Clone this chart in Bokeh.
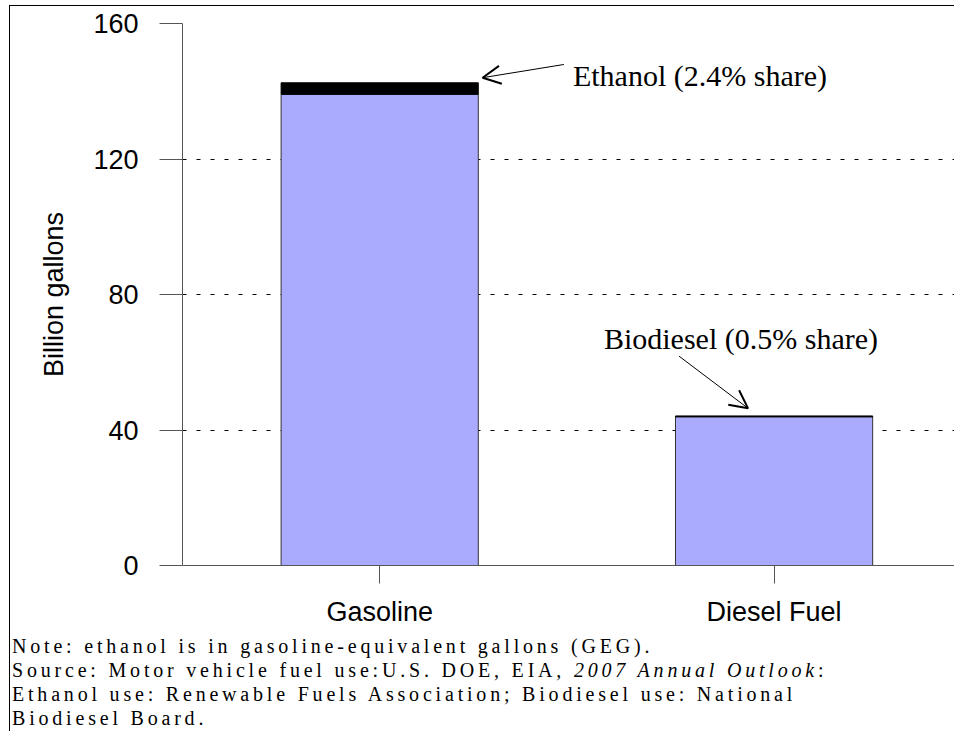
from bokeh.plotting import figure
from bokeh.layouts import column
from bokeh.models import Range1d, FixedTicker, Arrow, OpenHead, Label, Div
from bokeh.embed import file_html
from bokeh.resources import INLINE

# ---- data ----
categories = ["Gasoline", "Diesel Fuel"]
petroleum = [139.1, 43.9]      # billion gallons (petroleum part)
renewable = [3.4, 0.25]        # ethanol (GEG) / biodiesel
renewable_names = ["Ethanol (2.4% share)", "Biodiesel (0.5% share)"]
y_ticks = [0, 40, 80, 120, 160]
note_line = "Note: ethanol is in gasoline-equivalent gallons (GEG)."
source_plain = "Source: Motor vehicle fuel use:U.S. DOE, EIA, "
source_italic = "2007 Annual Outlook"
source_end = ":"
ethanol_src = "Ethanol use: Renewable Fuels Association; Biodiesel use: National"
biodiesel_src = "Biodiesel Board."

xs = list(range(len(categories)))
totals = [a + b for a, b in zip(petroleum, renewable)]

SANS = "Liberation Sans"
SERIF = "Liberation Serif"

p = figure(width=945, height=629,
           x_range=Range1d(-0.5, 1.46), y_range=Range1d(0, 160),
           output_backend="svg", toolbar_location=None,
           min_border_left=172, min_border_top=17,
           min_border_right=0, min_border_bottom=70)
p.outline_line_color = None
p.background_fill_color = "white"
p.border_fill_color = "white"
p.styles = {"border-top": "1px solid black", "border-left": "1px solid black",
            "box-sizing": "border-box"}

# grid
p.xgrid.grid_line_color = None
p.ygrid.ticker = FixedTicker(ticks=y_ticks)
p.ygrid.grid_line_color = "black"
p.ygrid.grid_line_dash = "4 10"
p.ygrid.grid_line_width = 1

# bars
p.vbar(x=xs, bottom=0, top=petroleum, width=0.5,
       fill_color="#aaaaff", line_color="#333333", line_width=1)
p.vbar(x=xs, bottom=petroleum, top=totals, width=0.5,
       fill_color="black", line_color="black", line_width=1)

# y axis
ya = p.yaxis[0]
ya.ticker = FixedTicker(ticks=y_ticks)
ya.axis_line_color = "#555555"
ya.major_tick_line_color = "#555555"
ya.major_tick_out = 23
ya.major_tick_in = 0
ya.minor_tick_line_color = None
ya.major_label_text_font = SANS
ya.major_label_text_font_size = "27px"
ya.major_label_text_color = "black"
ya.major_label_standoff = 21
ya.axis_label = "Billion gallons"
ya.axis_label_text_font = SANS
ya.axis_label_text_font_size = "27px"
ya.axis_label_text_font_style = "normal"
ya.axis_label_text_color = "black"
ya.axis_label_standoff = 21

# x axis
xa = p.xaxis[0]
xa.ticker = FixedTicker(ticks=xs)
xa.major_label_overrides = {i: c for i, c in zip(xs, categories)}
xa.axis_line_color = "#555555"
xa.major_tick_line_color = "#555555"
xa.major_tick_out = 18
xa.major_tick_in = 0
xa.minor_tick_line_color = None
xa.major_label_text_font = SANS
xa.major_label_text_font_size = "27px"
xa.major_label_text_color = "black"
xa.major_label_standoff = 13

# annotations with arrows
p.add_layout(Arrow(end=OpenHead(size=18, line_width=2, line_color="black"),
                   x_start=0.467, y_start=147.9, x_end=0.261, y_end=144.0,
                   line_color="black", line_width=1))
p.add_layout(Label(x=0.49, y=144.6, text=renewable_names[0],
                   text_font=SERIF, text_font_size="30px",
                   text_baseline="middle", text_align="left", text_color="black"))
p.add_layout(Arrow(end=OpenHead(size=18, line_width=2, line_color="black"),
                   x_start=0.759, y_start=61.8, x_end=0.934, y_end=46.4,
                   line_color="black", line_width=1))
p.add_layout(Label(x=0.916, y=67.1, text=renewable_names[1],
                   text_font=SERIF, text_font_size="30px",
                   text_baseline="middle", text_align="center", text_color="black"))

# footnote block below the chart
foot_html = (
    '<div style="font-family: \'Liberation Serif\', serif; font-size: 20px; '
    'letter-spacing: 3.8px; line-height: 24px; white-space: nowrap; color: black; '
    'margin: 0; padding: 0;">'
    f'{note_line}<br>'
    f'{source_plain}<i>{source_italic}</i>{source_end}<br>'
    f'{ethanol_src}<br>'
    f'{biodiesel_src}'
    '</div>'
)
foot = Div(text=foot_html, width=945, height=97, margin=(0, 0, 0, 0),
           styles={"border-left": "1px solid black", "box-sizing": "border-box",
                   "padding-left": "2px", "overflow": "hidden"})

layout = column(p, foot, spacing=0,
                styles={"margin-left": "9px", "margin-top": "5px"})

open("out.html", "w").write(file_html(layout, INLINE))
